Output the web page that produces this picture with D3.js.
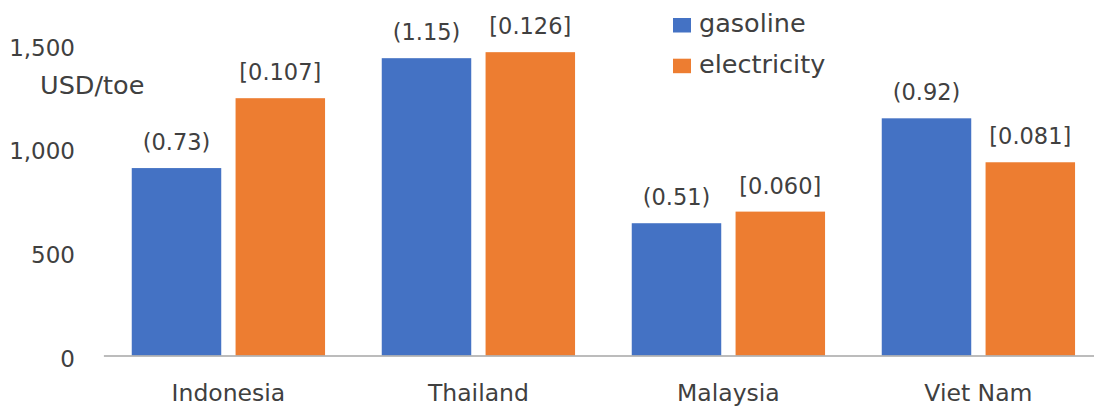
<!DOCTYPE html>
<html>
<head>
<meta charset="utf-8">
<script src="https://cdn.jsdelivr.net/npm/d3@7"></script>
<style>
  html, body { margin: 0; padding: 0; background: #fff; }
  svg { display: block; }
  text { font-family: "DejaVu Sans", "Open Sans", sans-serif; fill: #404040; }
</style>
</head>
<body>
<svg id="chart" width="1094" height="407"></svg>
<script>
// Energy price per tonne of oil equivalent, by country
const countries = ["Indonesia", "Thailand", "Malaysia", "Viet Nam"];
const seriesNames = ["gasoline", "electricity"];
const gasoline = [904, 1434, 638, 1144];
const electricity = [1241, 1463, 694, 932];
// Unit prices printed above the bars
const gasolineLabels = ["(0.73)", "(1.15)", "(0.51)", "(0.92)"];
const electricityLabels = ["[0.107]", "[0.126]", "[0.060]", "[0.081]"];
const yTicks = [0, 500, 1000, 1500];
const unitLabel = "USD/toe";

const colors = { gasoline: "#4472C4", electricity: "#ED7D31" };

const svg = d3.select("#chart");

const y = d3.scaleLinear().domain([0, 1500]).range([355.5, 44.5]);

const x0 = d3.scaleBand()
  .domain(countries)
  .range([103.4, 1103.4])
  .paddingInner(0.2268)
  .paddingOuter(0.1134);

const x1 = d3.scaleBand()
  .domain(seriesNames)
  .range([0, x0.bandwidth()])
  .paddingInner(0.138)
  .paddingOuter(0);

const rows = countries.map((c, i) => ({
  country: c,
  values: [
    { key: "gasoline", value: gasoline[i], label: gasolineLabels[i] },
    { key: "electricity", value: electricity[i], label: electricityLabels[i] }
  ]
}));

// Y axis (labels only, no line)
const yAxis = d3.axisLeft(y)
  .tickValues(yTicks)
  .tickSize(0)
  .tickPadding(0)
  .tickFormat(d3.format(","));

svg.append("g")
  .attr("transform", "translate(75,0)")
  .call(yAxis)
  .call(g => g.select(".domain").remove())
  .call(g => g.selectAll("text")
    .attr("font-size", 23)
    .attr("font-family", null)
    .attr("dy", 10.5)
    .style("fill", "#404040"));

svg.append("text")
  .attr("x", 40)
  .attr("y", 94)
  .attr("font-size", 25.5)
  .text(unitLabel);

// Bars
const groups = svg.append("g").selectAll("g")
  .data(rows)
  .join("g")
  .attr("transform", d => `translate(${x0(d.country)},0)`);

groups.selectAll("rect")
  .data(d => d.values)
  .join("rect")
  .attr("x", d => x1(d.key))
  .attr("y", d => y(d.value))
  .attr("width", x1.bandwidth())
  .attr("height", d => y(0) - y(d.value))
  .attr("fill", d => colors[d.key]);

groups.selectAll("text.val")
  .data(d => d.values)
  .join("text")
  .attr("class", "val")
  .attr("x", d => x1(d.key) + x1.bandwidth() / 2)
  .attr("y", d => y(d.value) - 18)
  .attr("text-anchor", "middle")
  .attr("font-size", 22.5)
  .text(d => d.label);

// X axis
const xAxis = d3.axisBottom(x0).tickSize(0).tickPadding(0);
svg.append("g")
  .attr("transform", `translate(0,${y(0)})`)
  .call(xAxis)
  .call(g => g.select(".domain").attr("stroke", "#A6A6A6").attr("stroke-width", 1.5))
  .call(g => g.selectAll("text")
    .attr("font-size", 23.5)
    .attr("font-family", null)
    .attr("y", 45.5)
    .attr("dy", 0)
    .style("fill", "#404040"));

// Legend
const legend = svg.append("g");
const legendBaselines = [32.3, 73];
seriesNames.forEach((s, i) => {
  const base = legendBaselines[i];
  legend.append("rect")
    .attr("x", 673)
    .attr("y", base - 14.3)
    .attr("width", 18)
    .attr("height", 14.5)
    .attr("fill", colors[s]);
  legend.append("text")
    .attr("x", 699)
    .attr("y", base)
    .attr("font-size", 25.5)
    .text(s);
});
</script>
</body>
</html>
